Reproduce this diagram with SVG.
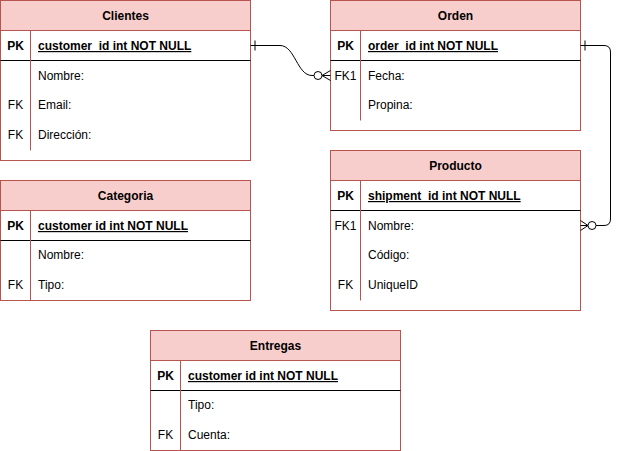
<svg xmlns="http://www.w3.org/2000/svg" width="620" height="451" viewBox="0 0 620 451">
<style>
.box{fill:#ffffff;stroke:#b85450;stroke-width:1}
.hdr{fill:#f8cecc;stroke:#b85450;stroke-width:1}
.div{stroke:#b85450;stroke-width:1}
.sep{stroke:#000000;stroke-width:1}
text{font-family:"Liberation Sans",Arial,sans-serif;font-size:12px;fill:#000000}
.t{font-weight:bold;text-anchor:middle}
.k{text-anchor:middle}
.pk{font-weight:bold}
.u{font-weight:bold;text-decoration:underline}
.c{fill:none;stroke:#000000;stroke-width:1}
</style>
<g id="Clientes">
<rect class="box" x="0.5" y="0.5" width="250" height="160"/>
<rect class="hdr" x="0.5" y="0.5" width="250" height="30"/>
<line class="sep" x1="0.5" y1="60.5" x2="250.5" y2="60.5"/>
<line class="div" x1="30.5" y1="30.5" x2="30.5" y2="150.5"/>
<text class="t" x="125.5" y="20">Clientes</text>
<text class="k pk" x="15.5" y="50">PK</text>
<text class="u" x="38" y="50">customer_id int NOT NULL</text>
<text x="38" y="80">Nombre:</text>
<text class="k" x="15.5" y="109">FK</text>
<text x="38" y="109">Email:</text>
<text class="k" x="15.5" y="139">FK</text>
<text x="38" y="139">Dirección:</text>
</g>
<g id="Orden">
<rect class="box" x="330.5" y="0.5" width="250" height="130"/>
<rect class="hdr" x="330.5" y="0.5" width="250" height="30"/>
<line class="sep" x1="330.5" y1="60.5" x2="580.5" y2="60.5"/>
<line class="div" x1="360.5" y1="30.5" x2="360.5" y2="120.5"/>
<text class="t" x="455.5" y="20">Orden</text>
<text class="k pk" x="345.5" y="50">PK</text>
<text class="u" x="368" y="50">order_id int NOT NULL</text>
<text class="k" x="345.5" y="80">FK1</text>
<text x="368" y="80">Fecha:</text>
<text x="368" y="109">Propina:</text>
</g>
<g id="Categoria">
<rect class="box" x="0.5" y="180.5" width="250" height="120"/>
<rect class="hdr" x="0.5" y="180.5" width="250" height="30"/>
<line class="sep" x1="0.5" y1="240.5" x2="250.5" y2="240.5"/>
<line class="div" x1="30.5" y1="210.5" x2="30.5" y2="300.5"/>
<text class="t" x="125.5" y="200">Categoria</text>
<text class="k pk" x="15.5" y="230">PK</text>
<text class="u" x="38" y="230">customer id int NOT NULL</text>
<text x="38" y="259">Nombre:</text>
<text class="k" x="15.5" y="289">FK</text>
<text x="38" y="289">Tipo:</text>
</g>
<g id="Producto">
<rect class="box" x="330.5" y="150.5" width="250" height="160"/>
<rect class="hdr" x="330.5" y="150.5" width="250" height="30"/>
<line class="sep" x1="330.5" y1="210.5" x2="580.5" y2="210.5"/>
<line class="div" x1="360.5" y1="180.5" x2="360.5" y2="300.5"/>
<text class="t" x="455.5" y="170">Producto</text>
<text class="k pk" x="345.5" y="200">PK</text>
<text class="u" x="368" y="200">shipment_id int NOT NULL</text>
<text class="k" x="345.5" y="230">FK1</text>
<text x="368" y="230">Nombre:</text>
<text x="368" y="259">Código:</text>
<text class="k" x="345.5" y="289">FK</text>
<text x="368" y="289">UniqueID</text>
</g>
<g id="Entregas">
<rect class="box" x="150.5" y="330.5" width="250" height="120"/>
<rect class="hdr" x="150.5" y="330.5" width="250" height="30"/>
<line class="sep" x1="150.5" y1="390.5" x2="400.5" y2="390.5"/>
<line class="div" x1="180.5" y1="360.5" x2="180.5" y2="450.5"/>
<text class="t" x="275.5" y="350">Entregas</text>
<text class="k pk" x="165.5" y="380">PK</text>
<text class="u" x="188" y="380">customer id int NOT NULL</text>
<text x="188" y="409">Tipo:</text>
<text class="k" x="165.5" y="439">FK</text>
<text x="188" y="439">Cuenta:</text>
</g>
<g id="connectors">
<path class="c" d="M250.5,45.5 L280,45.5 C295,45.5 297,75.5 312,75.5 L314,75.5"/>
<line class="c" x1="255" y1="40.5" x2="255" y2="50.5"/>
<circle class="c" cx="318" cy="75.5" r="4"/>
<path class="c" d="M330.5,70.5 L322,75.5 L330.5,80.5 M322,75.5 L330.5,75.5"/>
<path class="c" d="M580.5,45.5 L604,45.5 Q610.5,45.5 610.5,52 L610.5,219 Q610.5,225.5 604,225.5 L596,225.5"/>
<line class="c" x1="585" y1="40.5" x2="585" y2="50.5"/>
<circle class="c" cx="592" cy="225.5" r="4"/>
<path class="c" d="M580.5,220.5 L588,225.5 L580.5,230.5 M588,225.5 L580.5,225.5"/>
</g>
</svg>
